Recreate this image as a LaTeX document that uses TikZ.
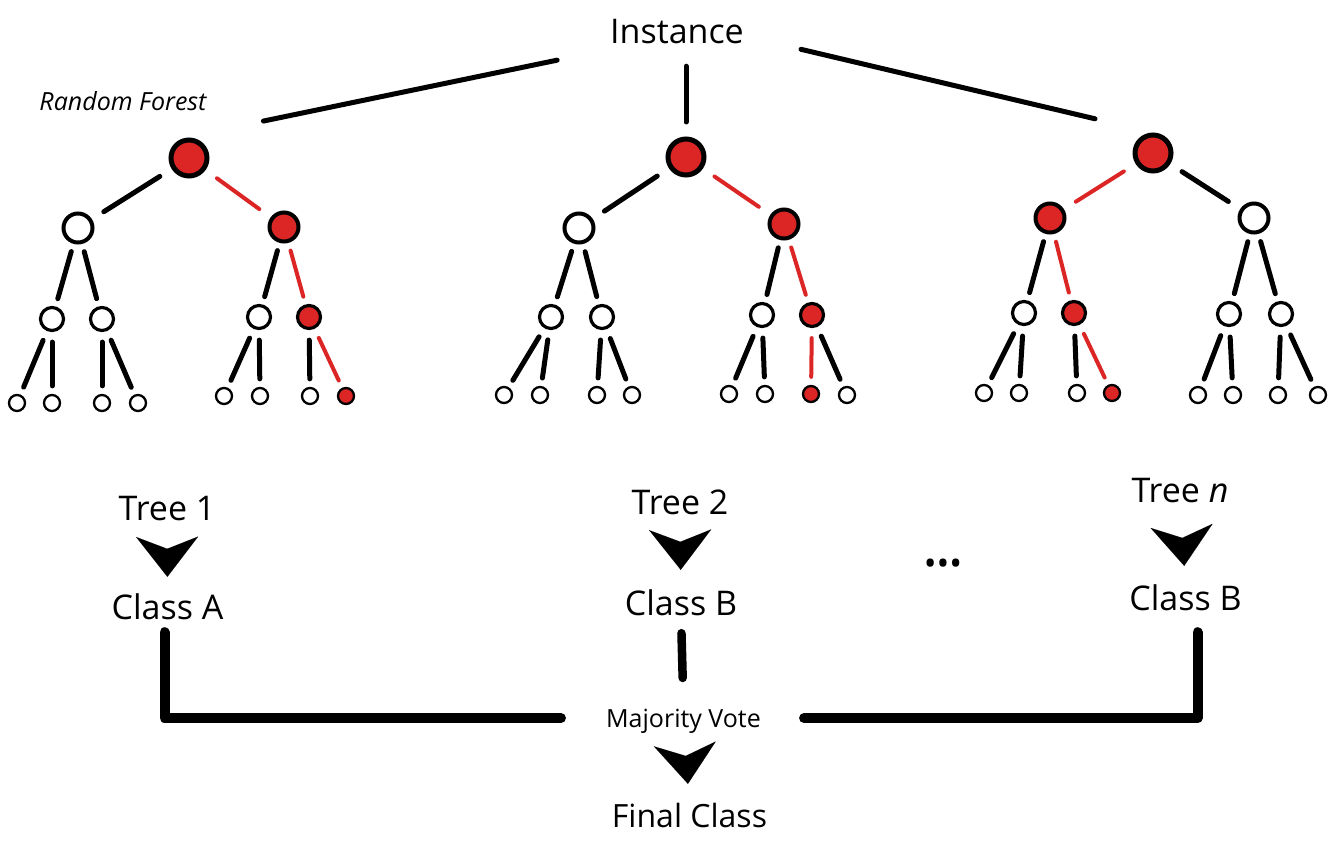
\documentclass[tikz,border=0pt]{standalone}
\usepackage{fontspec}
\setmainfont{Open Sans}
\usetikzlibrary{arrows.meta}
\definecolor{rf}{RGB}{220,38,38}
\begin{document}
\begin{tikzpicture}[x=1pt,y=-1pt,
  nd/.style={circle,draw=black,fill=white,inner sep=0pt},
  lva/.style={nd,line width=5pt,minimum size=36pt},
  lvb/.style={nd,line width=4pt,minimum size=29pt},
  lvc/.style={nd,line width=3.2pt,minimum size=23pt},
  lvd/.style={nd,line width=2.3pt,minimum size=16pt},
  hot/.style={fill=rf},
  edge/.style={line width=5pt,line cap=round},
  ea/.style={edge,shorten <=14pt,shorten >=14pt},
  eb/.style={edge,shorten <=8pt,shorten >=8pt},
  ec/.style={edge,shorten <=10pt,shorten >=8pt},
  redl/.style={draw=rf,line width=4pt},
  inl/.style={line width=5pt,line cap=round},
  big/.style={font=\fontsize{34}{40}\selectfont,inner sep=0pt,text height=24.3pt,text depth=0pt,anchor=base},
  chev/.style={line width=0.01pt,-{Stealth[length=40pt,width=62pt,inset=12pt]}},
  bus/.style={line width=10pt,line cap=round,line join=round}
]
\useasboundingbox (0,0) rectangle (1344,853);

% ---------- Tree 1 ----------
\node[lva,hot] (t1-1) at (189,158) {};
\node[lvb] (t1-2) at (78,228) {};
\node[lvb,hot] (t1-3) at (284,227) {};
\node[lvc] (t1-4) at (52,319) {};
\node[lvc] (t1-5) at (102,319) {};
\node[lvc] (t1-6) at (259,317) {};
\node[lvc,hot] (t1-7) at (309,317) {};
\node[lvd] (t1-8) at (17,403) {};
\node[lvd] (t1-9) at (52,403) {};
\node[lvd] (t1-10) at (102,403) {};
\node[lvd] (t1-11) at (138,403) {};
\node[lvd] (t1-12) at (224,396) {};
\node[lvd] (t1-13) at (260,396) {};
\node[lvd] (t1-14) at (310,396) {};
\node[lvd,hot] (t1-15) at (346,396) {};
\draw[ea] (t1-1) -- (t1-2);
\draw[ea,redl] (t1-1) -- (t1-3);
\foreach \a/\b in {2/4,2/5,3/6} \draw[eb] (t1-\a) -- (t1-\b);
\draw[eb,redl] (t1-3) -- (t1-7);
\foreach \a/\b in {4/8,4/9,5/10,5/11,6/12,6/13,7/14} \draw[ec] (t1-\a) -- (t1-\b);
\draw[ec,redl] (t1-7) -- (t1-15);

% ---------- Tree 2 ----------
\node[lva,hot] (t2-1) at (686,157) {};
\node[lvb] (t2-2) at (579,228) {};
\node[lvb,hot] (t2-3) at (784,224) {};
\node[lvc] (t2-4) at (551,317) {};
\node[lvc] (t2-5) at (602,317) {};
\node[lvc] (t2-6) at (762,315) {};
\node[lvc,hot] (t2-7) at (812,315) {};
\node[lvd] (t2-8) at (504,395) {};
\node[lvd] (t2-9) at (540,395) {};
\node[lvd] (t2-10) at (597,395) {};
\node[lvd] (t2-11) at (632,395) {};
\node[lvd] (t2-12) at (729,394) {};
\node[lvd] (t2-13) at (765,394) {};
\node[lvd,hot] (t2-14) at (811,394) {};
\node[lvd] (t2-15) at (847,395) {};
\draw[ea] (t2-1) -- (t2-2);
\draw[ea,redl] (t2-1) -- (t2-3);
\foreach \a/\b in {2/4,2/5,3/6} \draw[eb] (t2-\a) -- (t2-\b);
\draw[eb,redl] (t2-3) -- (t2-7);
\foreach \a/\b in {4/8,4/9,5/10,5/11,6/12,6/13,7/15} \draw[ec] (t2-\a) -- (t2-\b);
\draw[ec,redl] (t2-7) -- (t2-14);

% ---------- Tree 3 ----------
\node[lva,hot] (t3-1) at (1153,153) {};
\node[lvb,hot] (t3-2) at (1050,218) {};
\node[lvb] (t3-3) at (1254,218) {};
\node[lvc] (t3-4) at (1024,313) {};
\node[lvc,hot] (t3-5) at (1074,313) {};
\node[lvc] (t3-6) at (1229,314) {};
\node[lvc] (t3-7) at (1281,314) {};
\node[lvd] (t3-8) at (984,393) {};
\node[lvd] (t3-9) at (1019,393) {};
\node[lvd] (t3-10) at (1077,393) {};
\node[lvd,hot] (t3-11) at (1112,393) {};
\node[lvd] (t3-12) at (1198,395) {};
\node[lvd] (t3-13) at (1233,395) {};
\node[lvd] (t3-14) at (1278,395) {};
\node[lvd] (t3-15) at (1318,395) {};
\draw[ea,redl] (t3-1) -- (t3-2);
\draw[ea] (t3-1) -- (t3-3);
\foreach \a/\b in {2/4,3/6,3/7} \draw[eb] (t3-\a) -- (t3-\b);
\draw[eb,redl] (t3-2) -- (t3-5);
\foreach \a/\b in {4/8,4/9,5/10,6/12,6/13,7/14,7/15} \draw[ec] (t3-\a) -- (t3-\b);
\draw[ec,redl] (t3-5) -- (t3-11);

% ---------- Instance ----------
\node[big] (inst) at (677,44) {Instance};
\draw[inl,shorten <=54pt,shorten >=76pt] ([yshift=-5pt]inst.south west) -- (t2-1.north -| t1-1);
\draw[inl,shorten <=22pt,shorten >=14.5pt] (inst.south -| t2-1) -- (t2-1.north);
\draw[inl,shorten <=58.6pt,shorten >=59.6pt] ([yshift=-4pt]inst.east) -- (t3-1.north);
\node[font=\fontsize{25}{30}\selectfont\itshape,inner sep=0pt,anchor=base] (rfl) at (123,111) {Random Forest};

% ---------- Labels ----------
\node[big] (tr1) at (167,520) {Tree 1};
\node[big] (cA) at (167.5,619) {Class A};
\node[big] (tr2) at (680,514) {Tree 2};
\node[big] (cB2) at (681,615) {Class B};
\node[big] (trn) at (1180,502) {Tree \textit{n}};
\node[big] (cB3) at (1185.5,610) {Class B};
\node[font=\fontsize{34}{40}\selectfont,inner sep=0pt,anchor=base] (dots) at (943,575) {•••};
\node[font=\fontsize{25}{30}\selectfont,inner sep=0pt,text height=17.85pt,text depth=0pt,anchor=base] (mv) at (683.5,727) {Majority Vote};
\node[font=\fontsize{32}{38}\selectfont,inner sep=0pt,text height=22.85pt,text depth=0pt,anchor=base] (fc) at (689.5,827) {Final Class};

\draw[chev,shorten <=29pt,shorten >=17.7pt] (tr1.south) -- (cA.north);
\draw[chev,shorten <=29pt,shorten >=20.7pt] (tr2.south) -- (cB2.north);
\draw[chev,shorten <=36pt,shorten >=19.7pt] (trn.south) -- (cB3.north);
\draw[chev,shorten <=29pt,shorten >=20.2pt] (mv.south) -- (fc.north);

% ---------- Bus ----------
\draw[bus,shorten <=13pt,shorten >=45pt] ([xshift=-3pt]cA.south) |- (mv.west);
\draw[bus,line width=8.5pt,shorten <=18pt,shorten >=31pt] (cB2.south) -- (mv.north);
\draw[bus,shorten <=22pt,shorten >=43pt] ([xshift=12pt]cB3.south) |- (mv.east);
\end{tikzpicture}
\end{document}
